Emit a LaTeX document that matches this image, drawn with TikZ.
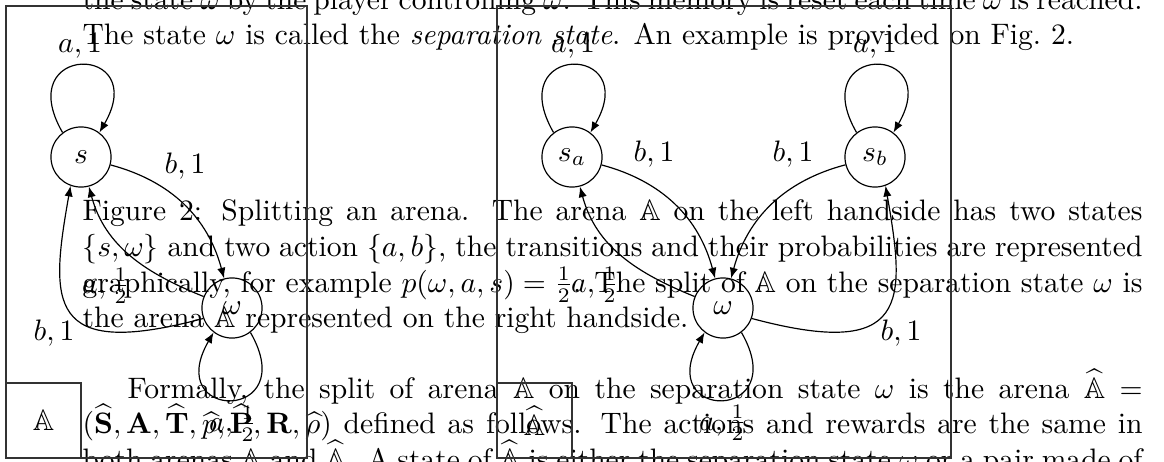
\documentclass[tikz,border=0pt]{standalone}
\usepackage{amsmath,amssymb}
\usetikzlibrary{arrows.meta}
\begin{document}
\begin{tikzpicture}[x=0.33784pt,y=-0.33784pt,
  >={Latex[length=3.6pt,width=2.8pt]},
  state/.style={circle,draw,line width=0.4pt,minimum size=20.3pt,inner sep=0pt},
  frame/.style={draw=black!80,line width=0.5pt},
  boxlbl/.style={draw=black!80,line width=0.5pt,minimum width=25.3pt,minimum height=25.3pt,inner sep=0pt},
  trans/.style={draw,->,line width=0.4pt},
  lbl/.style={anchor=base,inner sep=0pt},
  txt/.style={anchor=base west,inner sep=0pt}]
\useasboundingbox (0,0) rectangle (1164,462);

% page text
\node[txt] (t0) at (82,10) {\hbox to 358.1pt{the state $\omega$ by the player controlling $\omega$. This memory is reset each time $\omega$ is reached.}};
\node[txt] (t1) at (82,45) {The state $\omega$ is called the \emph{separation state}. An example is provided on Fig.~2.};
\node[txt] (c1) at (82,220) {\hbox to 358.1pt{Figure 2: Splitting an arena. The arena $\mathbb{A}$ on the left handside has two states}};
\node[txt] (c2) at (82,256) {\hbox to 358.1pt{$\{s,\omega\}$ and two action $\{a,b\}$, the transitions and their probabilities are represented}};
\node[txt] (c3) at (82,292) {\hbox to 358.1pt{graphically, for example $p(\omega,a,s)=\frac{1}{2}$. The split of $\mathbb{A}$ on the separation state $\omega$ is}};
\node[txt] (c4) at (82,327) {the arena $\mathbb{A}$ represented on the right handside.};
\node[txt] (p1) at (127,398) {\hbox to 342.9pt{Formally, the split of arena $\mathbb{A}$ on the separation state $\omega$ is the arena $\widehat{\mathbb{A}}$ $=$}};
\node[txt] (p2) at (82,433) {\hbox to 358.1pt{$(\widehat{\mathbf{S}},\mathbf{A},\widehat{\mathbf{T}},\widehat{p},\widehat{\mathbf{P}},\mathbf{R},\widehat{\rho})$ defined as follows. The actions and rewards are the same in}};
\node[txt] (p3) at (82,469) {\hbox to 358.1pt{both arenas $\mathbb{A}$ and $\widehat{\mathbb{A}}$. A state of $\widehat{\mathbb{A}}$ is either the separation state $\omega$ or a pair made of}};

% frames
\draw[frame] (6,6) rectangle (307,458);
\draw[frame] (497,6) rectangle (951,458);
\node[boxlbl] (boxA) at (43.5,420.5) {$\mathbb{A}$};
\node[boxlbl] (boxB) at (534.5,420.5) {$\widehat{\mathbb{A}}$};

% left arena
\node[state] (s) at (81,157) {$s$};
\node[state] (w) at (232,308) {$\omega$};
\draw[trans] (s.127) .. controls +(120:35pt) and +(60:35pt) .. (s.53);
\draw[trans] (s) to[bend left=30] (w);
\draw[trans] (w) to[out=158,in=-75] (s);
\draw[trans] (w.200) .. controls +(195:55pt) and +(-100:40pt) .. (s.-110);
\draw[trans] (w.-53) .. controls +(-60:35pt) and +(-120:35pt) .. (w.-127);
\node[lbl] (l1) at (80,53) {$a,1$};
\node[lbl] (l2) at (185,174) {$b,1$};
\node[lbl] (l3) at (106,293) {$a,\frac{1}{2}$};
\node[lbl] (l4) at (54,340) {$b,1$};
\node[lbl] (l5) at (233,431) {$a,\frac{1}{2}$};

% right arena (split)
\node[state] (sa) at (572,157) {$s_a$};
\node[state] (sb) at (875,157) {$s_b$};
\node[state] (w2) at (723,308) {$\omega$};
\draw[trans] (sa.127) .. controls +(120:35pt) and +(60:35pt) .. (sa.53);
\draw[trans] (sb.127) .. controls +(120:35pt) and +(60:35pt) .. (sb.53);
\draw[trans] (sa) to[bend left=30] (w2);
\draw[trans] (sb) to[bend right=30] (w2);
\draw[trans] (w2) to[out=158,in=-75] (sa);
\draw[trans] (w2.-20) .. controls +(-15:55pt) and +(-80:40pt) .. (sb.-70);
\draw[trans] (w2.-53) .. controls +(-60:35pt) and +(-120:35pt) .. (w2.-127);
\node[lbl] (r1) at (573,53) {$a,1$};
\node[lbl] (r2) at (875,53) {$a,1$};
\node[lbl] (r3) at (654,162) {$b,1$};
\node[lbl] (r4) at (793,162) {$b,1$};
\node[lbl] (r5) at (595,292) {$a,\frac{1}{2}$};
\node[lbl] (r6) at (901,340) {$b,1$};
\node[lbl] (r7) at (723,430) {$a,\frac{1}{2}$};
\end{tikzpicture}
\end{document}
